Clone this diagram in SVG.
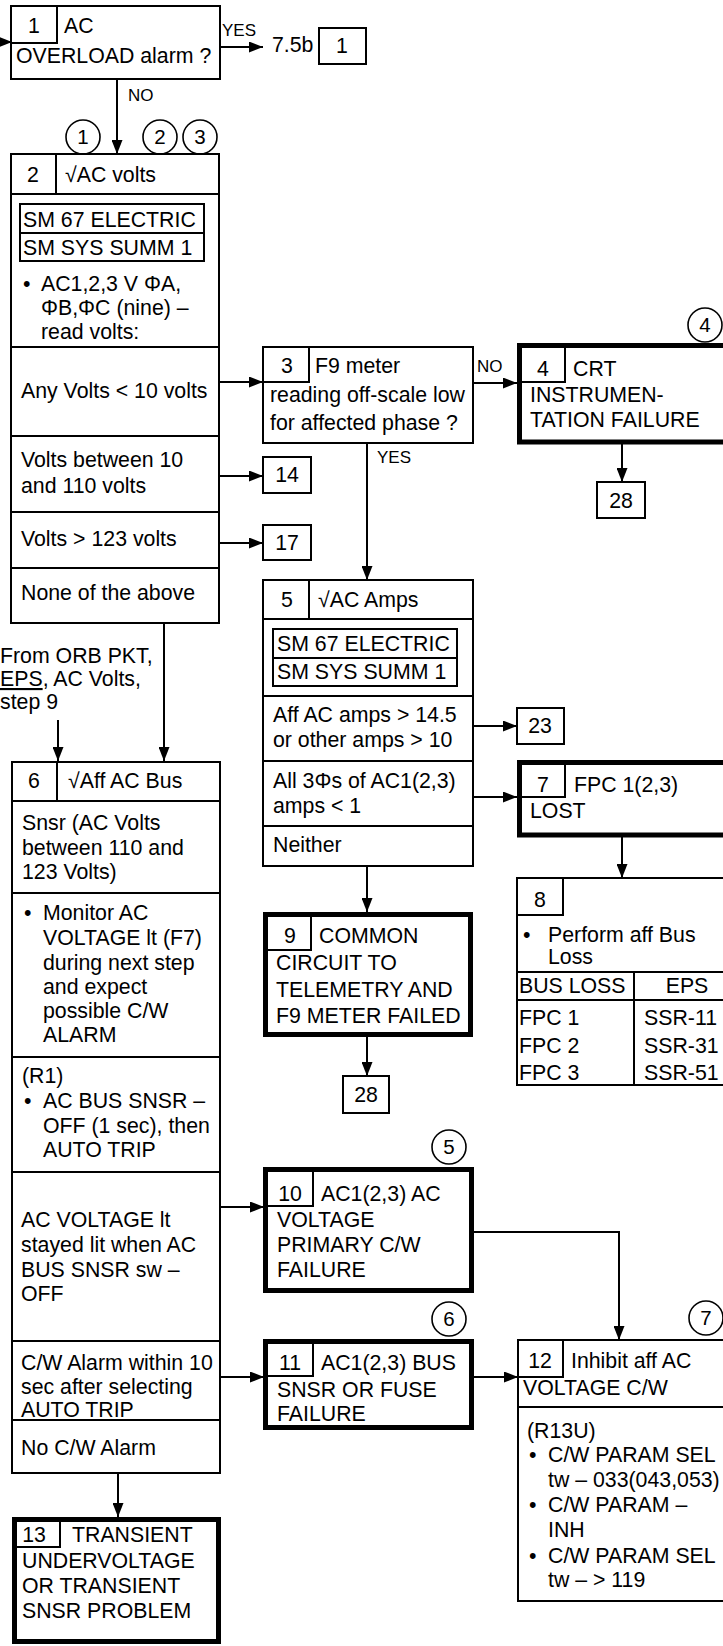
<svg xmlns="http://www.w3.org/2000/svg" width="723" height="1646" viewBox="0 0 723 1646">
<defs>
<marker id="ah" markerUnits="userSpaceOnUse" markerWidth="15" markerHeight="11" refX="14" refY="5.5" orient="auto">
<path d="M0,0 L14,5.5 L0,11 z" fill="#000"/>
</marker>
<style>
text{font-family:"Liberation Sans",Arial,sans-serif;font-size:21.3px;fill:#000}
.lbl{font-size:17px}
.c{text-anchor:middle}
.cn{font-size:20.5px;text-anchor:middle}
.b{fill:#fff;stroke:#000;stroke-width:2}
.k{fill:#fff;stroke:#000;stroke-width:5}
.n{fill:none;stroke:#000;stroke-width:2}
.ci{fill:#fff;stroke:#000;stroke-width:1.6}
.ln{fill:none;stroke:#000;stroke-width:2}
.ar{fill:none;stroke:#000;stroke-width:2;marker-end:url(#ah)}
</style>
</defs>
<rect width="723" height="1646" fill="#fff"/>

<g id="connectors">
<line class="ar" x1="-4" y1="42" x2="12" y2="42"/>
<line class="ar" x1="220" y1="47" x2="263" y2="47"/>
<line class="ar" x1="117" y1="79" x2="117" y2="154"/>
<line class="ar" x1="219" y1="382" x2="263" y2="382"/>
<line class="ar" x1="219" y1="476" x2="263" y2="476"/>
<line class="ar" x1="219" y1="543" x2="263" y2="543"/>
<line class="ar" x1="164" y1="623" x2="164" y2="761"/>
<line class="ar" x1="58" y1="720" x2="58" y2="761"/>
<line class="ar" x1="473" y1="383" x2="517" y2="383"/>
<line class="ar" x1="367" y1="443" x2="367" y2="580"/>
<line class="ar" x1="622" y1="444" x2="622" y2="482"/>
<line class="ar" x1="473" y1="726" x2="517" y2="726"/>
<line class="ar" x1="473" y1="797" x2="517" y2="797"/>
<line class="ar" x1="367" y1="866" x2="367" y2="912"/>
<line class="ar" x1="622" y1="837" x2="622" y2="878"/>
<line class="ar" x1="367" y1="1037" x2="367" y2="1076"/>
<line class="ar" x1="220" y1="1207" x2="264" y2="1207"/>
<polyline class="ar" points="474,1232 619,1232 619,1340"/>
<line class="ar" x1="220" y1="1377" x2="264" y2="1377"/>
<line class="ar" x1="474" y1="1377" x2="518" y2="1377"/>
<line class="ar" x1="118" y1="1473" x2="118" y2="1517"/>
<text class="lbl" x="222" y="36">YES</text>
<text class="lbl" x="128" y="101">NO</text>
<text class="lbl" x="477" y="372">NO</text>
<text class="lbl" x="377" y="463">YES</text>
</g>

<g id="circles">
<circle class="ci" cx="83" cy="137" r="17"/><text class="cn" x="83" y="144">1</text>
<circle class="ci" cx="160" cy="137" r="17"/><text class="cn" x="160" y="144">2</text>
<circle class="ci" cx="200" cy="137" r="17"/><text class="cn" x="200" y="144">3</text>
<circle class="ci" cx="705" cy="325" r="17"/><text class="cn" x="705" y="332">4</text>
<circle class="ci" cx="449" cy="1147" r="17"/><text class="cn" x="449" y="1154">5</text>
<circle class="ci" cx="449" cy="1319" r="17"/><text class="cn" x="449" y="1326">6</text>
<circle class="ci" cx="706" cy="1318" r="17"/><text class="cn" x="706" y="1325">7</text>
</g>

<g id="node1">
<rect class="b" x="11" y="6" width="209" height="73"/>
<polyline class="n" points="57,6 57,43 11,43"/>
<text class="c" x="34" y="33">1</text>
<text x="64" y="33">AC</text>
<text x="16" y="63">OVERLOAD alarm ?</text>
</g>

<g id="ref-7-5b">
<text x="272" y="52">7.5b</text>
<rect class="b" x="319" y="28" width="47" height="36"/>
<text class="c" x="342" y="53">1</text>
</g>

<g id="node2">
<rect class="b" x="11" y="154" width="208" height="469"/>
<line class="ln" x1="11" y1="194" x2="219" y2="194"/>
<line class="ln" x1="56" y1="154" x2="56" y2="194"/>
<text class="c" x="33" y="182">2</text>
<text x="65" y="182">√AC volts</text>
<rect class="n" x="20" y="204" width="184" height="57"/>
<line class="ln" x1="20" y1="233" x2="204" y2="233"/>
<text x="23" y="227">SM 67 ELECTRIC</text>
<text x="23" y="255">SM SYS SUMM 1</text>
<text x="23" y="291">•</text>
<text x="41" y="291">AC1,2,3 V ΦA,</text>
<text x="41" y="315">ΦB,ΦC (nine) –</text>
<text x="41" y="339">read volts:</text>
<line class="ln" x1="11" y1="347" x2="219" y2="347"/>
<text x="21" y="398">Any Volts &lt; 10 volts</text>
<line class="ln" x1="11" y1="436" x2="219" y2="436"/>
<text x="21" y="467">Volts between 10</text>
<text x="21" y="493">and 110 volts</text>
<line class="ln" x1="11" y1="512" x2="219" y2="512"/>
<text x="21" y="546">Volts &gt; 123 volts</text>
<line class="ln" x1="11" y1="568" x2="219" y2="568"/>
<text x="21" y="600">None of the above</text>
</g>

<g id="ref-14">
<rect class="b" x="263" y="457" width="48" height="36"/>
<text class="c" x="287" y="482">14</text>
</g>
<g id="ref-17">
<rect class="b" x="263" y="525" width="48" height="35"/>
<text class="c" x="287" y="550">17</text>
</g>

<g id="note-orb">
<text x="0" y="663">From ORB PKT,</text>
<text x="0" y="686"><tspan style="text-decoration:underline">EPS</tspan>, AC Volts,</text>
<text x="0" y="709">step 9</text>
</g>

<g id="node3">
<rect class="b" x="263" y="347" width="210" height="96"/>
<polyline class="n" points="309,347 309,382 263,382"/>
<text class="c" x="287" y="373">3</text>
<text x="315" y="373">F9 meter</text>
<text x="270" y="402">reading off-scale low</text>
<text x="270" y="430">for affected phase ?</text>
</g>

<g id="node4">
<rect class="k" x="519.5" y="345.5" width="210" height="96.5"/>
<polyline class="n" points="565,346 565,382 520,382"/>
<text class="c" x="543" y="376">4</text>
<text x="573" y="376">CRT</text>
<text x="530" y="402">INSTRUMEN-</text>
<text x="530" y="427">TATION FAILURE</text>
</g>

<g id="ref-28a">
<rect class="b" x="597" y="482" width="48" height="36"/>
<text class="c" x="621" y="508">28</text>
</g>

<g id="node5">
<rect class="b" x="263" y="580" width="210" height="286"/>
<line class="ln" x1="263" y1="619" x2="473" y2="619"/>
<line class="ln" x1="309" y1="580" x2="309" y2="619"/>
<text class="c" x="287" y="607">5</text>
<text x="318" y="607">√AC Amps</text>
<rect class="n" x="273" y="629" width="184" height="57"/>
<line class="ln" x1="273" y1="658" x2="457" y2="658"/>
<text x="277" y="651">SM 67 ELECTRIC</text>
<text x="277" y="679">SM SYS SUMM 1</text>
<line class="ln" x1="263" y1="696" x2="473" y2="696"/>
<text x="273" y="722">Aff AC amps &gt; 14.5</text>
<text x="273" y="747">or other amps &gt; 10</text>
<line class="ln" x1="263" y1="761" x2="473" y2="761"/>
<text x="273" y="788">All 3Φs of AC1(2,3)</text>
<text x="273" y="813">amps &lt; 1</text>
<line class="ln" x1="263" y1="826" x2="473" y2="826"/>
<text x="273" y="852">Neither</text>
</g>

<g id="ref-23">
<rect class="b" x="517" y="708" width="47" height="36"/>
<text class="c" x="540" y="733">23</text>
</g>

<g id="node7">
<rect class="k" x="519.5" y="762.5" width="210" height="72.5"/>
<polyline class="n" points="565,763 565,797 520,797"/>
<text class="c" x="543" y="792">7</text>
<text x="574" y="792">FPC 1(2,3)</text>
<text x="530" y="818">LOST</text>
</g>

<g id="node8">
<rect class="b" x="517" y="878" width="215" height="207"/>
<polyline class="n" points="563,878 563,915 517,915"/>
<text class="c" x="540" y="907">8</text>
<text x="523" y="942">•</text>
<text x="548" y="942">Perform aff Bus</text>
<text x="548" y="964">Loss</text>
<line class="ln" x1="517" y1="972" x2="730" y2="972"/>
<line class="ln" x1="517" y1="1000" x2="730" y2="1000"/>
<line class="ln" x1="634" y1="972" x2="634" y2="1085"/>
<text x="519" y="993">BUS LOSS</text>
<text class="c" x="687" y="993">EPS</text>
<text x="519" y="1025">FPC 1</text>
<text x="519" y="1053">FPC 2</text>
<text x="519" y="1080">FPC 3</text>
<text x="644" y="1025">SSR-11</text>
<text x="644" y="1053">SSR-31</text>
<text x="644" y="1080">SSR-51</text>
</g>

<g id="node9">
<rect class="k" x="265.5" y="914.5" width="205" height="120"/>
<polyline class="n" points="311,915 311,950 266,950"/>
<text class="c" x="290" y="943">9</text>
<text x="319" y="943">COMMON</text>
<text x="276" y="970">CIRCUIT TO</text>
<text x="276" y="997">TELEMETRY AND</text>
<text x="276" y="1023">F9 METER FAILED</text>
</g>

<g id="ref-28b">
<rect class="b" x="343" y="1076" width="46" height="37"/>
<text class="c" x="366" y="1102">28</text>
</g>

<g id="node6">
<rect class="b" x="12" y="762" width="208" height="711"/>
<line class="ln" x1="12" y1="801" x2="220" y2="801"/>
<line class="ln" x1="57" y1="762" x2="57" y2="801"/>
<text class="c" x="34" y="788">6</text>
<text x="68" y="788">√Aff AC Bus</text>
<text x="22" y="830">Snsr (AC Volts</text>
<text x="22" y="855">between 110 and</text>
<text x="22" y="879">123 Volts)</text>
<line class="ln" x1="12" y1="893" x2="220" y2="893"/>
<text x="24" y="920">•</text>
<text x="43" y="920">Monitor AC</text>
<text x="43" y="945">VOLTAGE lt (F7)</text>
<text x="43" y="970">during next step</text>
<text x="43" y="994">and expect</text>
<text x="43" y="1018">possible C/W</text>
<text x="43" y="1042">ALARM</text>
<line class="ln" x1="12" y1="1057" x2="220" y2="1057"/>
<text x="22" y="1083">(R1)</text>
<text x="24" y="1108">•</text>
<text x="43" y="1108">AC BUS SNSR –</text>
<text x="43" y="1133">OFF (1 sec), then</text>
<text x="43" y="1157">AUTO TRIP</text>
<line class="ln" x1="12" y1="1172" x2="220" y2="1172"/>
<text x="21" y="1227">AC VOLTAGE lt</text>
<text x="21" y="1252">stayed lit when AC</text>
<text x="21" y="1277">BUS SNSR sw –</text>
<text x="21" y="1301">OFF</text>
<line class="ln" x1="12" y1="1341" x2="220" y2="1341"/>
<text x="21" y="1370">C/W Alarm within 10</text>
<text x="21" y="1394">sec after selecting</text>
<text x="21" y="1417">AUTO TRIP</text>
<line class="ln" x1="12" y1="1420" x2="220" y2="1420"/>
<text x="21" y="1455">No C/W Alarm</text>
</g>

<g id="node10">
<rect class="k" x="265.5" y="1169.5" width="206" height="121"/>
<polyline class="n" points="313,1170 313,1206 266,1206"/>
<text class="c" x="290" y="1201">10</text>
<text x="321" y="1201">AC1(2,3) AC</text>
<text x="277" y="1227">VOLTAGE</text>
<text x="277" y="1252">PRIMARY C/W</text>
<text x="277" y="1277">FAILURE</text>
</g>

<g id="node11">
<rect class="k" x="265.5" y="1341.5" width="206" height="86"/>
<polyline class="n" points="313,1342 313,1376 266,1376"/>
<text class="c" x="290" y="1370">11</text>
<text x="321" y="1370">AC1(2,3) BUS</text>
<text x="277" y="1397">SNSR OR FUSE</text>
<text x="277" y="1421">FAILURE</text>
</g>

<g id="node12">
<rect class="b" x="518" y="1340" width="215" height="261"/>
<polyline class="n" points="563,1340 563,1377 518,1377"/>
<text class="c" x="540" y="1368">12</text>
<text x="571" y="1368">Inhibit aff AC</text>
<text x="523" y="1395">VOLTAGE C/W</text>
<line class="ln" x1="518" y1="1407" x2="730" y2="1407"/>
<text x="527" y="1438">(R13U)</text>
<text x="529" y="1462">•</text>
<text x="548" y="1462">C/W PARAM SEL</text>
<text x="548" y="1487">tw – 033(043,053)</text>
<text x="529" y="1512">•</text>
<text x="548" y="1512">C/W PARAM –</text>
<text x="548" y="1537">INH</text>
<text x="529" y="1563">•</text>
<text x="548" y="1563">C/W PARAM SEL</text>
<text x="548" y="1587">tw – &gt; 119</text>
</g>

<g id="node13">
<rect class="k" x="14.5" y="1519.5" width="204" height="122"/>
<polyline class="n" points="60,1520 60,1547 15,1547"/>
<text class="c" x="34" y="1542">13</text>
<text x="72" y="1542">TRANSIENT</text>
<text x="22" y="1568">UNDERVOLTAGE</text>
<text x="22" y="1593">OR TRANSIENT</text>
<text x="22" y="1618">SNSR PROBLEM</text>
</g>
</svg>
